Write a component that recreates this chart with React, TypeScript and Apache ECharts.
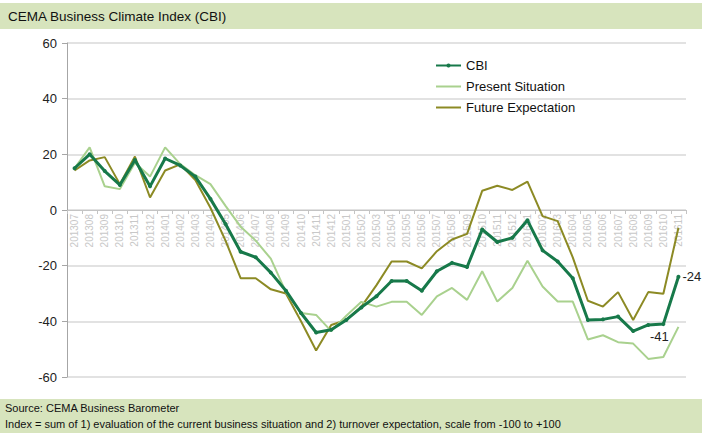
import React, { useEffect, useRef } from "react";
import * as echarts from "echarts";

const categories = [
  "201307","201308","201309","201310","201311","201312","201401","201402","201403","201404",
  "201405","201406","201407","201408","201409","201410","201411","201412","201501","201502",
  "201503","201504","201505","201506","201507","201508","201509","201510","201511","201512",
  "201601","201602","201603","201604","201605","201606","201607","201608","201609","201610","201611",
];

const cbi = [
  15, 20, 14, 9, 18, 8.5, 18.5, 16, 12, 4,
  -5, -15, -17, -22.5, -29, -37, -44, -43, -39.5, -35,
  -31, -25.5, -25.5, -29, -22, -19, -20.5, -7, -11.5, -10,
  -3.7, -14.5, -18.5, -24.5, -39.5, -39.3, -38.3, -43.5, -41.3, -41, -24,
];

const present = [
  15, 22.5, 8.5, 7.5, 17, 12, 22.5, 16.5, 12.5, 9.3,
  1.5, -6, -11, -17.5, -29.5, -37, -37.7, -43.5, -38, -33,
  -34.7, -33, -33, -37.7, -31, -28, -32.3, -22, -32.9, -28,
  -18.2, -27.5, -32.9, -32.9, -46.5, -45, -47.5, -48, -53.5, -52.8, -42,
];

const future = [
  14.2, 17.8, 19, 9.3, 19.2, 4.5, 14.2, 16.4, 10.8, 0.8,
  -11, -24.5, -24.5, -28.5, -30, -40, -50.5, -41.3, -39.5, -34.7,
  -27, -18.5, -18.5, -21, -14.8, -10.6, -8.6, 6.9, 8.7, 7.2,
  10.2, -2.2, -4, -17, -32.6, -34.7, -29.5, -39.5, -29.5, -30.1, -6.4,
];

const yTicks = { min: -60, max: 60, interval: 20 };

const seriesNames = ["CBI", "Present Situation", "Future Expectation"];
const colors = ["#17794a", "#a9d18e", "#8c8a24"];

export default function App() {
  const ref = useRef<HTMLDivElement>(null);
  useEffect(() => {
    document.body.style.margin = "0";
    if (!ref.current) return;
    const chart = echarts.init(ref.current, null, { renderer: "svg" });
    const lastIdx = cbi.length - 1;
    const gridTop = 43;
    const gridBottom = 56;
    const gridH = 433 - gridTop - gridBottom;
    const zeroOffset = -gridH * (0 - yTicks.min) / (yTicks.max - yTicks.min);
    const cbiData = cbi.map((v, i) => {
      if (i === lastIdx) {
        return { value: v, label: { show: true, position: "right", formatter: "{c}", fontSize: 13, color: "#222", fontFamily: "Liberation Sans, Arial", distance: 2 } };
      }
      if (i === lastIdx - 1) {
        return { value: v, label: { show: true, position: "bottom", formatter: (p: any) => String(Math.round(p.value)), fontSize: 13, color: "#222", fontFamily: "Liberation Sans, Arial", distance: 4, offset: [-4, 0] } };
      }
      return v;
    });
    chart.setOption({
      animation: false,
      backgroundColor: "#ffffff",
      textStyle: { fontFamily: "Liberation Sans, Arial, sans-serif" },
      graphic: [
        { type: "rect", left: 0, top: 3, shape: { width: 702, height: 26 }, style: { fill: "#d7e4bd" }, silent: true },
        { type: "text", left: 8, top: 9, style: { text: "CEMA Business Climate Index (CBI)", fill: "#111", font: "13.5px 'Liberation Sans', Arial" } },
        { type: "rect", left: 0, top: 399, shape: { width: 702, height: 34 }, style: { fill: "#d7e4bd" }, silent: true },
        { type: "text", left: 5, top: 402, style: { text: "Source: CEMA Business Barometer", fill: "#111", font: "11px 'Liberation Sans', Arial" } },
        { type: "text", left: 5, top: 418, style: { text: "Index = sum of 1) evaluation of the current business situation and 2) turnover expectation, scale from -100 to +100", fill: "#111", font: "11px 'Liberation Sans', Arial" } },
      ],
      legend: {
        orient: "vertical",
        left: 430,
        top: 54,
        itemWidth: 25,
        itemHeight: 5,
        itemGap: 8,
        textStyle: { fontSize: 13, color: "#111", fontFamily: "Liberation Sans, Arial" },
        data: [
          { name: seriesNames[0] },
          { name: seriesNames[1], itemStyle: { opacity: 0 } },
          { name: seriesNames[2], itemStyle: { opacity: 0 } },
        ],
      },
      grid: { left: 67, right: 16, top: gridTop, bottom: gridBottom, containLabel: false },
      xAxis: {
        type: "category",
        data: categories,
        boundaryGap: true,
        offset: zeroOffset,
        axisLine: { onZero: false, lineStyle: { color: "#c4c4c4" } },
        axisTick: { show: true, length: 4, lineStyle: { color: "#c4c4c4" } },
        axisLabel: { rotate: 90, fontSize: 10, color: "#c8c8c8", interval: 0, margin: 4, fontFamily: "Liberation Sans, Arial" },
        splitLine: { show: false },
      },
      yAxis: {
        type: "value",
        min: yTicks.min,
        max: yTicks.max,
        interval: yTicks.interval,
        axisLine: { show: true, lineStyle: { color: "#a6a6a6" } },
        axisTick: { show: true, length: 5, lineStyle: { color: "#a6a6a6" } },
        axisLabel: { fontSize: 13, color: "#222", margin: 10, fontFamily: "Liberation Sans, Arial" },
        splitLine: { show: true, lineStyle: { color: "#d9d9d9", width: 1.5 } },
      },
      series: [
        {
          name: seriesNames[2],
          type: "line",
          data: future,
          symbol: "none",
          lineStyle: { color: colors[2], width: 2 },
          itemStyle: { color: colors[2] },
          z: 2,
        },
        {
          name: seriesNames[1],
          type: "line",
          data: present,
          symbol: "none",
          lineStyle: { color: colors[1], width: 2 },
          itemStyle: { color: colors[1] },
          z: 3,
        },
        {
          name: seriesNames[0],
          type: "line",
          data: cbiData,
          symbol: "circle",
          symbolSize: 4,
          lineStyle: { color: colors[0], width: 3 },
          itemStyle: { color: colors[0] },
          z: 4,
        },
      ],
    });
    return () => chart.dispose();
  }, []);
  return <div ref={ref} style={{ width: 702, height: 433 }} />;
}
